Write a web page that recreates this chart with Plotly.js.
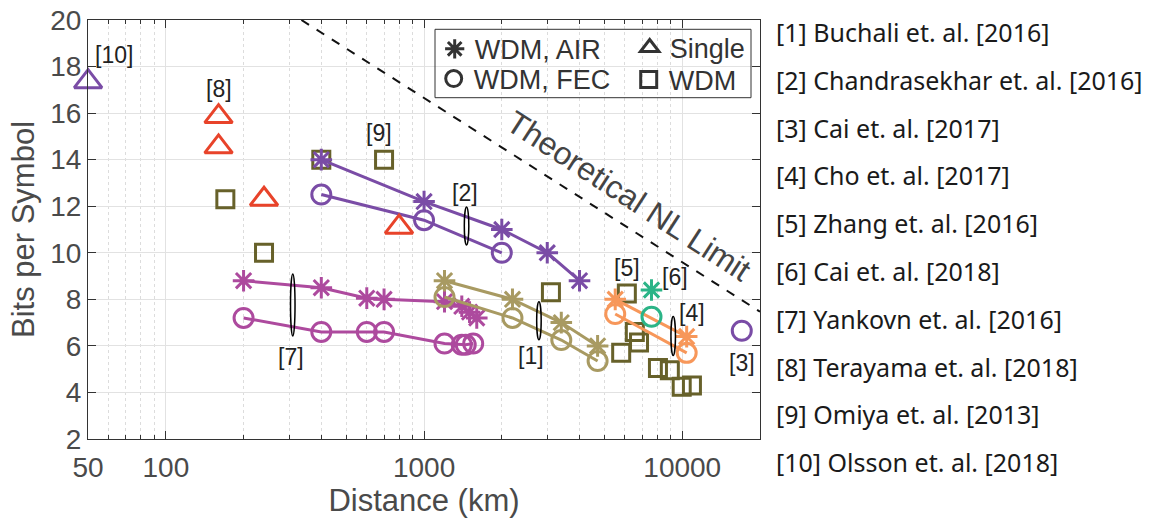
<!DOCTYPE html>
<html><head><meta charset="utf-8">
<script src="https://cdn.plot.ly/plotly-3.0.1.min.js"></script>
<style>html,body{margin:0;padding:0;background:#fff}</style>
</head><body><div id="chart" style="width:1155px;height:525px"></div>
<script>
// ---- data ----
// [2] Chandrasekhar
const ref2AirX = [400, 1000, 2000, 3000, 4000];
const ref2AirY = [14, 12.2, 11, 10, 8.8];
const ref2FecX = [400, 1000, 2000];
const ref2FecY = [12.5, 11.4, 10];
// [7] Yankovn
const ref7AirX = [200, 400, 600, 700, 1200, 1400, 1500, 1600];
const ref7AirY = [8.8, 8.5, 8.05, 8.0, 7.9, 7.7, 7.45, 7.2];
const ref7FecX = [200, 400, 600, 700, 1200, 1400, 1450, 1550];
const ref7FecY = [7.2, 6.6, 6.6, 6.6, 6.1, 6.05, 6.05, 6.1];
// [1] Buchali
const ref1AirX = [1200, 2200, 3400, 4700];
const ref1AirY = [8.8, 8.0, 7.0, 6.0];
const ref1FecX = [1200, 2200, 3400, 4700];
const ref1FecY = [8.1, 7.2, 6.25, 5.35];
// [4] Cho
const ref4AirX = [5500, 10400];
const ref4AirY = [8.0, 6.4];
const ref4FecX = [5500, 10400];
const ref4FecY = [7.37, 5.7];
// [6] Cai 2018
const ref6AirX = [7600];
const ref6AirY = [8.4];
const ref6FecX = [7600];
const ref6FecY = [7.25];
// [3] Cai 2017
const ref3FecX = [17000];
const ref3FecY = [6.65];
// Single channel: [10] Olsson, [8] Terayama
const ref10X = [50];
const ref10Y = [17.35];
const ref8X = [160, 160, 240, 800];
const ref8Y = [15.85, 14.55, 12.3, 11.1];
// WDM (squares): [9] Omiya, [5] Zhang, others
const wdmX = [170, 240, 400, 700, 3100, 6100, 5800, 6550, 6800, 8050, 8950, 9950, 10900];
const wdmY = [12.3, 10, 14, 14, 8.3, 8.25, 5.7, 6.6, 6.15, 5.05, 4.95, 4.25, 4.3];
// Theoretical NL limit (dashed line end points)
const limitX = [335, 20000];
const limitY = [20, 7.47];

// tick labels
const xTickVals = [50, 100, 1000, 10000];
const xTickText = ['50', '100', '1000', '10000'];
const xMinorVals = [60, 70, 80, 90, 200, 300, 400, 500, 600, 700, 800, 900,
  2000, 3000, 4000, 5000, 6000, 7000, 8000, 9000];

// labels [n]
const labelText = ['[10]', '[8]', '[9]', '[2]', '[5]', '[6]', '[4]', '[3]', '[1]', '[7]'];
const labelX = [63, 160, 670, 1440, 6090, 9370, 10870, 17000, 2606, 304];
const labelY = [18.5, 17.04, 15.13, 12.57, 9.33, 8.97, 7.43, 5.26, 5.57, 5.52];

// ellipse markers (center x, center y, pixel height)
const ellX = [1432, 304, 2730, 9040];
const ellY = [11.15, 7.76, 7.08, 6.43];
const ellH = [38, 62, 38, 39];

// reference list
const refList = [
  '[1] Buchali et. al. [2016]',
  '[2] Chandrasekhar et. al. [2016]',
  '[3] Cai et. al. [2017]',
  '[4] Cho et. al. [2017]',
  '[5] Zhang et. al. [2016]',
  '[6] Cai et. al. [2018]',
  '[7] Yankovn et. al. [2016]',
  '[8] Terayama et. al. [2018]',
  '[9] Omiya et. al. [2013]',
  '[10] Olsson et. al. [2018]'
];

// ---- styles ----
const C = {
  purple: '#7a4ca6', magenta: '#ad4a9e', tan: '#a89a62', olive: '#67612a',
  red: '#e8432a', orange: '#f7975a', green: '#2bb487', legend: '#333333'
};
const FONT = 'Liberation Sans, Arial, Helvetica, sans-serif';

function mk(symbol, color, size) {
  return {symbol: symbol, size: size, color: color, line: {color: color, width: 3}};
}
const SYM = {air: ['asterisk-open', 18], fec: ['circle-open', 19], single: ['triangle-up-open', 24], wdm: ['square-open', 17]};

function series(x, y, kind, color, withLine) {
  return {
    type: 'scatter', x: x, y: y, mode: withLine ? 'lines+markers' : 'markers',
    line: {color: color, width: 3}, marker: mk(SYM[kind][0], color, SYM[kind][1]),
    showlegend: false, hoverinfo: 'x+y', cliponaxis: false
  };
}

const traces = [
  {type: 'scatter', x: limitX, y: limitY, mode: 'lines', line: {color: '#111', width: 2, dash: 'dash'}, showlegend: false},
  series(wdmX, wdmY, 'wdm', C.olive, false),
  series(ref7AirX, ref7AirY, 'air', C.magenta, true),
  series(ref7FecX, ref7FecY, 'fec', C.magenta, true),
  series(ref1AirX, ref1AirY, 'air', C.tan, true),
  series(ref1FecX, ref1FecY, 'fec', C.tan, true),
  series(ref2AirX, ref2AirY, 'air', C.purple, true),
  series(ref2FecX, ref2FecY, 'fec', C.purple, true),
  series(ref4AirX, ref4AirY, 'air', C.orange, true),
  series(ref4FecX, ref4FecY, 'fec', C.orange, true),
  series(ref6AirX, ref6AirY, 'air', C.green, false),
  series(ref6FecX, ref6FecY, 'fec', C.green, false),
  series(ref3FecX, ref3FecY, 'fec', C.purple, false),
  series(ref8X, ref8Y, 'single', C.red, false),
  series(ref10X, ref10Y, 'single', C.purple, false)
];

// legend entries (four single-entry legends arranged 2x2)
const legendNames = ['WDM, AIR', 'Single', 'WDM, FEC', 'WDM'];
const legendKinds = ['air', 'single', 'fec', 'wdm'];
const legendIds = ['legend', 'legend2', 'legend3', 'legend4'];
legendNames.forEach(function (n, i) {
  traces.push({
    type: 'scatter', x: [null], y: [null], mode: 'markers', name: n,
    marker: mk(SYM[legendKinds[i]][0], C.legend, SYM[legendKinds[i]][1]),
    legend: legendIds[i], showlegend: true
  });
});

const plotL = 88, plotR = 760, plotT = 20, plotB = 439;
const pw = plotR - plotL, ph = plotB - plotT;
function px2paperX(p) { return (p - plotL) / pw; }
function px2paperY(p) { return (plotB - p) / ph; }

function legendAt(sx, sy) {
  return {
    x: px2paperX(sx - 22), y: px2paperY(sy), xanchor: 'left', yanchor: 'middle',
    bgcolor: 'rgba(0,0,0,0)', borderwidth: 0, itemwidth: 30,
    font: {family: FONT, size: 27, color: '#333'}
  };
}

const annotations = [];
labelText.forEach(function (t, i) {
  annotations.push({
    xref: 'x', yref: 'y', x: Math.log10(labelX[i]), y: labelY[i], text: t,
    showarrow: false, font: {family: FONT, size: 23, color: '#222'}
  });
});
annotations.push({
  xref: 'x', yref: 'y', x: Math.log10(6210), y: 12.44, text: 'Theoretical NL Limit',
  showarrow: false, textangle: 33, font: {family: FONT, size: 32, color: '#444'}
});
refList.forEach(function (t, i) {
  annotations.push({
    xref: 'paper', yref: 'paper', x: px2paperX(774), y: px2paperY(32 + i * 47.8),
    xanchor: 'left', yanchor: 'middle', text: t, showarrow: false,
    font: {family: 'Noto Sans, Open Sans, sans-serif', size: 25, color: '#1a1a1a'}
  });
});

const shapes = [];
ellX.forEach(function (x, i) {
  shapes.push({
    type: 'circle', xref: 'x', yref: 'y', xsizemode: 'pixel', ysizemode: 'pixel',
    xanchor: x, yanchor: ellY[i], x0: -4.5, x1: 4.5, y0: -ellH[i] / 2, y1: ellH[i] / 2,
    line: {color: '#000', width: 1.5}
  });
});
// legend border
shapes.push({
  type: 'rect', xref: 'paper', yref: 'paper', layer: 'above',
  x0: px2paperX(435), x1: px2paperX(751), y0: px2paperY(97.7), y1: px2paperY(29.3),
  line: {color: '#333', width: 1}, fillcolor: 'rgba(0,0,0,0)'
});

const layout = {
  width: 1155, height: 525,
  margin: {l: plotL, r: 1155 - plotR, t: plotT, b: 525 - plotB, pad: 0},
  paper_bgcolor: '#fff', plot_bgcolor: '#fff',
  font: {family: FONT, color: '#4a4a4a'},
  xaxis: {
    type: 'log', range: [Math.log10(49.95), Math.log10(20000)],
    tickmode: 'array', tickvals: xTickVals, ticktext: xTickText,
    ticks: 'inside', ticklen: 8, tickwidth: 1, tickcolor: '#333', ticklabelstandoff: 3,
    showline: true, linecolor: '#333', linewidth: 1, mirror: 'ticks',
    showgrid: true, gridcolor: '#e2e2e2', gridwidth: 1, zeroline: false,
    tickfont: {family: FONT, size: 28, color: '#4a4a4a'},
    minor: {tickmode: 'array', tickvals: xMinorVals, ticks: 'inside', ticklen: 4, tickcolor: '#333',
      showgrid: true, gridcolor: '#dcdcdc', griddash: 'dot', gridwidth: 1},
    title: {text: 'Distance (km)', font: {family: FONT, size: 31, color: '#4a4a4a'}, standoff: 2}
  },
  yaxis: {
    range: [2, 20], dtick: 2, tick0: 0,
    ticks: 'inside', ticklen: 8, tickwidth: 1, tickcolor: '#333',
    showline: true, linecolor: '#333', linewidth: 1, mirror: 'ticks',
    showgrid: true, gridcolor: '#e2e2e2', gridwidth: 1, zeroline: false,
    tickfont: {family: FONT, size: 28, color: '#4a4a4a'},
    title: {text: 'Bits per Symbol', font: {family: FONT, size: 31, color: '#4a4a4a'}, standoff: 6}
  },
  legend: legendAt(456.7, 49.3),
  legend2: legendAt(651.7, 48),
  legend3: legendAt(455.7, 79),
  legend4: legendAt(650.7, 80),
  annotations: annotations,
  shapes: shapes
};

Plotly.newPlot('chart', traces, layout, {displayModeBar: false, staticPlot: true});
</script>
</body></html>
